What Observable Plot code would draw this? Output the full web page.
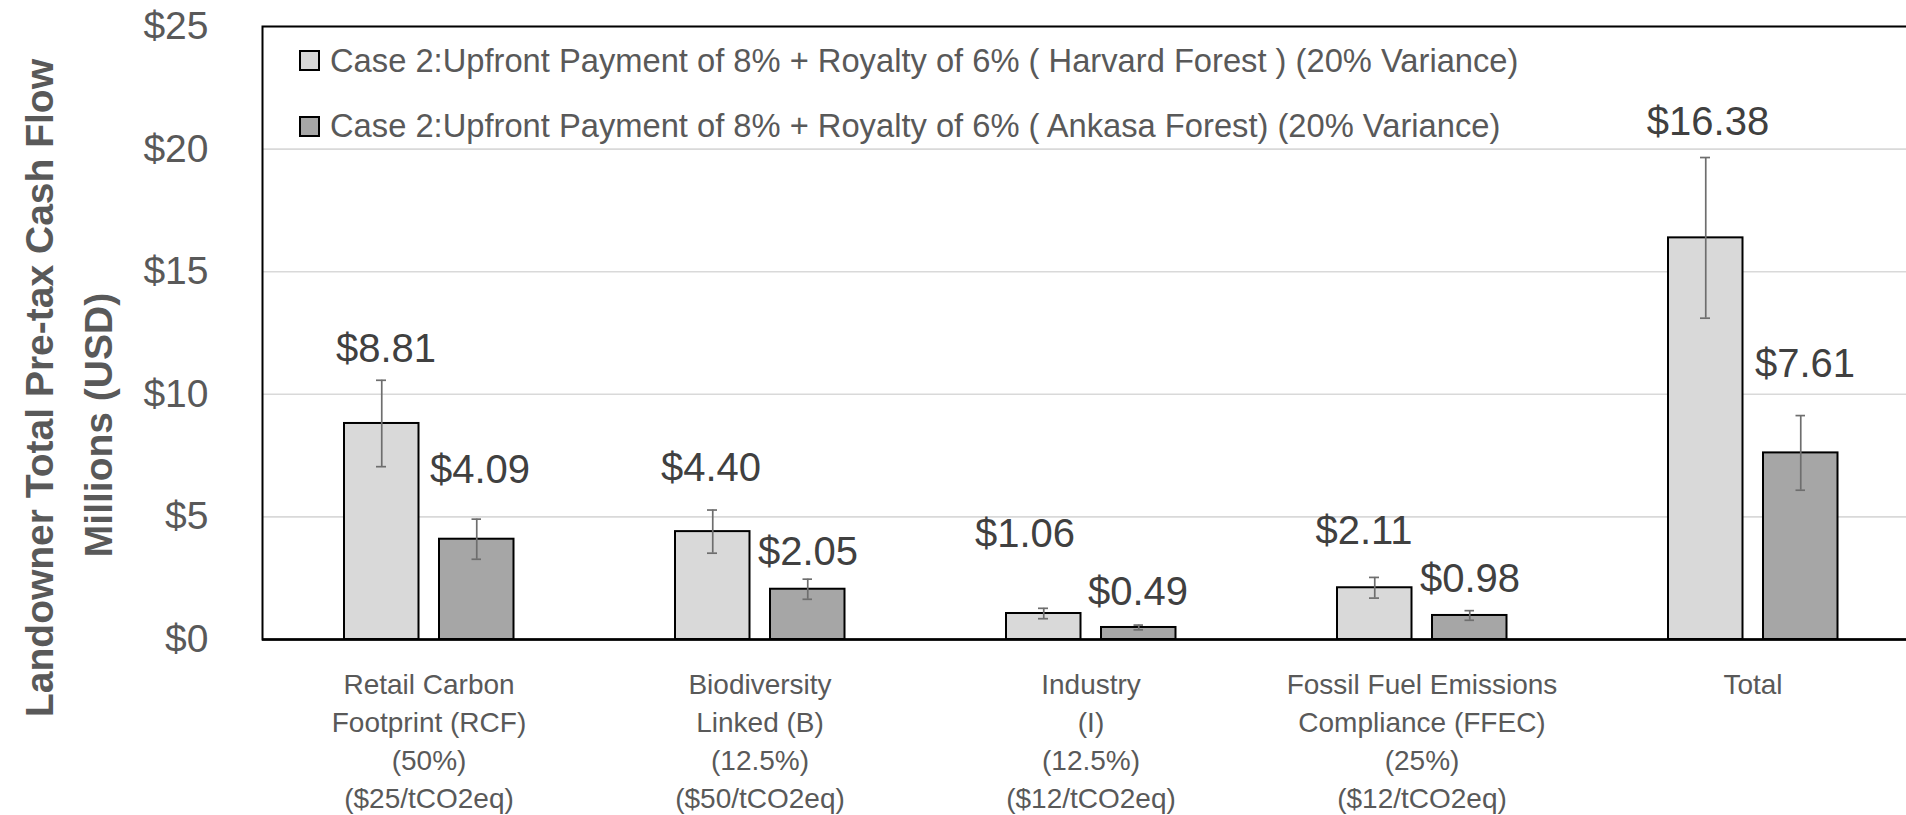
<!DOCTYPE html>
<html>
<head>
<meta charset="utf-8">
<script src="https://cdn.jsdelivr.net/npm/d3@7"></script>
<script src="https://cdn.jsdelivr.net/npm/@observablehq/plot@0.6"></script>
<style>
  html, body { margin: 0; padding: 0; background: #fff; overflow: hidden; }
  #wrap { position: relative; width: 1906px; height: 815px; font-family: "Liberation Sans", Arial, sans-serif; }
  #legend { position: absolute; left: 0; top: 0; }
  .lg-row { position: absolute; left: 299px; height: 30px; display: flex; align-items: center; white-space: nowrap;
            font-size: 32.7px; color: #595959; }
  .lg-sw { width: 21px; height: 21px; box-sizing: border-box; border: 2px solid #000; margin-right: 10px; flex: none; }
</style>
</head>
<body>
<div id="wrap"></div>
<script>
// ---- data ----
const categories = [
  "Retail Carbon Footprint (RCF)",
  "Biodiversity Linked (B)",
  "Industry (I)",
  "Fossil Fuel Emissions Compliance (FFEC)",
  "Total"
];
const categoryTickLabels = [
  "Retail Carbon\nFootprint (RCF)\n(50%)\n($25/tCO2eq)",
  "Biodiversity\nLinked (B)\n(12.5%)\n($50/tCO2eq)",
  "Industry\n(I)\n(12.5%)\n($12/tCO2eq)",
  "Fossil Fuel Emissions\nCompliance (FFEC)\n(25%)\n($12/tCO2eq)",
  "Total"
];
const seriesNames = [
  "Case 2:Upfront Payment of 8% + Royalty of 6% ( Harvard Forest ) (20% Variance)",
  "Case 2:Upfront Payment of 8% + Royalty of 6% ( Ankasa Forest) (20% Variance)"
];
const harvardValues = [8.81, 4.40, 1.06, 2.11, 16.38];
const ankasaValues = [4.09, 2.05, 0.49, 0.98, 7.61];
const variance = 0.20;
const yTicks = [0, 5, 10, 15, 20, 25];

// ---- styles (kept apart from data) ----
const seriesFills = ["#d9d9d9", "#a6a6a6"];
const harvardLabelNudge = [[-43, -31], [-49, -42], [-66, -74], [-58, -46], [-45, -35]];
const ankasaLabelNudge = [[51, -49], [48, -27], [47, -33], [48, -31], [52, -51]];

const harvard = categories.map((c, i) => ({cat: c, series: seriesNames[0], value: harvardValues[i]}));
const ankasa = categories.map((c, i) => ({cat: c, series: seriesNames[1], value: ankasaValues[i]}));

const lo = d => d.value * (1 - variance);
const hi = d => d.value * (1 + variance);
const errColor = "#6e6e6e";

function seriesMarks(rows, barInset, errDx, capInset, nudges) {
  return [
    Plot.barY(rows, {x: "cat", y: "value", fill: "series", stroke: "#000", strokeWidth: 2,
      insetLeft: barInset[0], insetRight: barInset[1]}),
    Plot.ruleX(rows, {x: "cat", y1: lo, y2: hi, dx: errDx, stroke: errColor, strokeWidth: 1.7}),
    Plot.tickY(rows, {x: "cat", y: hi, stroke: errColor, strokeWidth: 1.7, insetLeft: capInset[0], insetRight: capInset[1]}),
    Plot.tickY(rows, {x: "cat", y: lo, stroke: errColor, strokeWidth: 1.7, insetLeft: capInset[0], insetRight: capInset[1]}),
    ...rows.map((d, i) => Plot.text([d], {x: "cat", y: hi, text: r => "$" + r.value.toFixed(2),
      dx: nudges[i][0], dy: nudges[i][1], fontSize: 40, fill: "#404040"}))
  ];
}

const chart = Plot.plot({
  width: 1906,
  height: 815,
  marginLeft: 262,
  marginRight: 0,
  marginTop: 26,
  marginBottom: 176,
  style: {fontFamily: "\"Liberation Sans\", Arial, sans-serif", color: "#595959", background: "transparent"},
  x: {type: "band", domain: categories, range: [262, 1919.5], padding: 0, axis: null},
  y: {domain: [0, 25], axis: null},
  color: {domain: seriesNames, range: seriesFills},
  marks: [
    Plot.gridY(yTicks, {stroke: "#d9d9d9", strokeOpacity: 1, strokeWidth: 1.6}),
    Plot.frame({stroke: "#000", strokeWidth: 2, insetRight: -6}),
    Plot.axisY(yTicks, {tickSize: 0, tickPadding: 54, tickFormat: d => "$" + d, fontSize: 39, label: null}),
    ...seriesMarks(harvard, [81, 175.5], -47.25, [113, 208], harvardLabelNudge),
    ...seriesMarks(ankasa, [176, 80.5], 47.75, [208.5, 113], ankasaLabelNudge),
    Plot.ruleY([0], {stroke: "#000", strokeWidth: 2.5}),
    Plot.text(categories, {x: d => d, text: (d, i) => categoryTickLabels[i], frameAnchor: "bottom",
      lineAnchor: "top", dy: 27, lineHeight: 1.36, fontSize: 28, fill: "#595959"}),
    Plot.text(["Landowner Total Pre-tax Cash Flow"], {frameAnchor: "left", text: d => d, rotate: -90,
      textAnchor: "middle", dx: -222, dy: 55, fontSize: 39, fontWeight: "bold", fill: "#595959"}),
    Plot.text(["Millions (USD)"], {frameAnchor: "left", text: d => d, rotate: -90,
      textAnchor: "middle", dx: -163, dy: 92, fontSize: 39, fontWeight: "bold", fill: "#595959"})
  ]
});

const wrap = document.getElementById("wrap");
wrap.appendChild(chart);

// legend overlay (inside plot frame, as in the reference)
const legend = document.createElement("div");
legend.id = "legend";
const rowTops = [45.5, 111];
seriesNames.forEach((name, i) => {
  const row = document.createElement("div");
  row.className = "lg-row";
  row.style.top = rowTops[i] + "px";
  const sw = document.createElement("span");
  sw.className = "lg-sw";
  sw.style.background = chart.scale("color").apply(name);
  row.appendChild(sw);
  row.appendChild(document.createTextNode(name));
  legend.appendChild(row);
});
wrap.appendChild(legend);
</script>
</body>
</html>
